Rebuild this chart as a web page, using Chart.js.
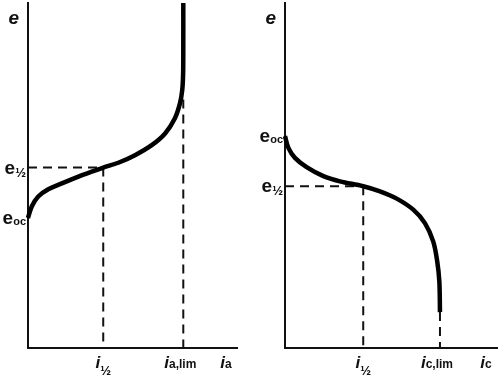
<!DOCTYPE html>
<html>
<head>
<meta charset="utf-8">
<script src="https://cdn.jsdelivr.net/npm/chart.js@4.4.1/dist/chart.umd.min.js"></script>
<style>
  body { margin: 0; background: #fff; }
  .panel { position: absolute; top: 0; width: 250px; height: 375px; }
</style>
</head>
<body>
<div class="panel" style="left:0"><canvas id="anode" width="250" height="375"></canvas></div>
<div class="panel" style="left:250px"><canvas id="cathode" width="250" height="375"></canvas></div>
<script>
// anodic curve (current, potential), arbitrary units 0..100
var anodeCurrent   = [0, 1.8, 4.9, 9.7, 16.1, 24.1, 30.5, 36.0, 43.2, 51.2, 59.2, 65.6, 70.3, 72.7, 73.8, 74.2, 74.3, 74.3];
var anodePotential = [37.7, 41.0, 43.9, 46.0, 47.7, 49.7, 51.1, 52.3, 53.7, 55.9, 58.8, 62.2, 66.6, 70.9, 74.8, 79.1, 86.4, 100];
var anodeHalf  = { i: 36.0, e: 52.3 };
var anodeLimit = 74.3;

// cathodic curve
var cathodeCurrent   = [0, 1.6, 4.7, 10.2, 18.1, 25.9, 36.9, 44.8, 52.7, 60.5, 66.0, 69.9, 71.8, 72.8, 73.1];
var cathodePotential = [61.4, 58.0, 55.1, 52.4, 49.8, 48.3, 46.9, 45.4, 43.3, 40.1, 36.2, 30.9, 25.1, 19.3, 10.4];
var cathodeHalf  = { i: 36.9, e: 46.9 };
var cathodeLimit = 73.1;

// tick labels: [main, subscript]
var anodeXLabels   = [['i', '½'], ['i', 'a,lim'], ['i', 'a']];
var anodeYLabels   = [['e', '½'], ['e', 'oc']];
var cathodeXLabels = [['i', '½'], ['i', 'c,lim'], ['i', 'c']];
var cathodeYLabels = [['e', 'oc'], ['e', '½']];

function pts(xs, ys) {
    var out = [];
    for (let i = 0; i < xs.length; i++) out.push({ x: xs[i], y: ys[i] });
    return out;
}

function dashed(data) {
    return {
        data: data,
        borderColor: '#111',
        borderWidth: 2,
        borderDash: [9, 6],
        pointRadius: 0,
        showLine: true,
        clip: false
    };
}

const FONT = '"Liberation Sans", Arial, sans-serif';

function subSize(lab) {
    if (lab[1] === '½') return 13;
    if (lab[1] === 'oc') return 11;
    return 12;
}

function labelWidth(ctx, lab, size, italic) {
    ctx.font = (italic ? 'italic ' : '') + 'bold ' + size + 'px ' + FONT;
    var w = ctx.measureText(lab[0]).width;
    ctx.font = 'bold ' + subSize(lab) + 'px ' + FONT;
    return w + ctx.measureText(lab[1]).width;
}

function drawLabel(ctx, lab, x, y, size, subDrop, italic) {
    ctx.font = (italic ? 'italic ' : '') + 'bold ' + size + 'px ' + FONT;
    ctx.fillText(lab[0], x, y);
    var w = ctx.measureText(lab[0]).width;
    ctx.font = 'bold ' + subSize(lab) + 'px ' + FONT;
    ctx.fillText(lab[1], x + w, y + subDrop);
}

// draws axis names and tick labels with subscripts
function axisText(xLabels, xValues, yLabels, yValues) {
    return {
        id: 'axisText',
        afterDraw(chart) {
            const ctx = chart.ctx;
            const xs = chart.scales.x, ys = chart.scales.y;
            const area = chart.chartArea;
            ctx.save();
            ctx.fillStyle = '#111';
            ctx.textAlign = 'left';
            ctx.textBaseline = 'alphabetic';

            // axis name e
            ctx.font = 'italic bold 19px ' + FONT;
            var we = ctx.measureText('e').width;
            ctx.fillText('e', area.left - 9 - we, area.top + 21);

            for (let k = 0; k < yLabels.length; k++) {
                var half = yLabels[k][1] === '½';
                var w = labelWidth(ctx, yLabels[k], 19, false);
                var py = ys.getPixelForValue(yValues[k]);
                drawLabel(ctx, yLabels[k], area.left - 2 - w, py + 6, 19, half ? 3 : 1, false);
            }
            for (let k = 0; k < xLabels.length; k++) {
                var sub = xLabels[k][1] === '½';
                var w2 = labelWidth(ctx, xLabels[k], 17, true);
                var px = xValues[k] === null ? area.right - 11 : xs.getPixelForValue(xValues[k]);
                var shift = sub ? 0 : (xValues[k] === null ? 0 : -3);
                drawLabel(ctx, xLabels[k], px - w2 / 2 + shift, area.bottom + 20, 17, sub ? 7 : 0, true);
            }
            ctx.restore();
        }
    };
}

function makeChart(id, curve, half, limit, limTop, pad, xLabels, yLabels, yValues) {
    return new Chart(document.getElementById(id).getContext('2d'), {
        type: 'scatter',
        data: {
            datasets: [
                {
                    data: curve,
                    borderColor: '#000',
                    borderWidth: 4.5,
                    pointRadius: 0,
                    showLine: true,
                    tension: 0.35,
                    clip: false
                },
                dashed([{ x: 0, y: half.e }, { x: half.i, y: half.e }]),
                dashed([{ x: half.i, y: half.e }, { x: half.i, y: 0 }]),
                dashed([{ x: limit, y: limTop }, { x: limit, y: 0 }])
            ]
        },
        options: {
            responsive: false,
            animation: false,
            layout: { padding: pad },
            plugins: { legend: { display: false }, tooltip: { enabled: false } },
            scales: {
                x: {
                    type: 'linear', min: 0, max: 100,
                    ticks: { display: false },
                    grid: { display: false, drawTicks: false },
                    border: { display: true, color: '#111', width: 2 }
                },
                y: {
                    type: 'linear', min: 0, max: 100,
                    ticks: { display: false },
                    grid: { display: false, drawTicks: false },
                    border: { display: true, color: '#111', width: 2 }
                }
            }
        },
        plugins: [axisText(xLabels, [half.i, limit, null], yLabels, yValues)]
    });
}

makeChart('anode', pts(anodeCurrent, anodePotential), anodeHalf, anodeLimit, 72,
    { left: 28, right: 13, top: 3, bottom: 27 },
    anodeXLabels, anodeYLabels, [anodeHalf.e, anodePotential[0]]);

makeChart('cathode', pts(cathodeCurrent, cathodePotential), cathodeHalf, cathodeLimit, 10.4,
    { left: 35, right: 3, top: 3, bottom: 27 },
    cathodeXLabels, cathodeYLabels, [cathodePotential[0], cathodeHalf.e]);
</script>
</body>
</html>
